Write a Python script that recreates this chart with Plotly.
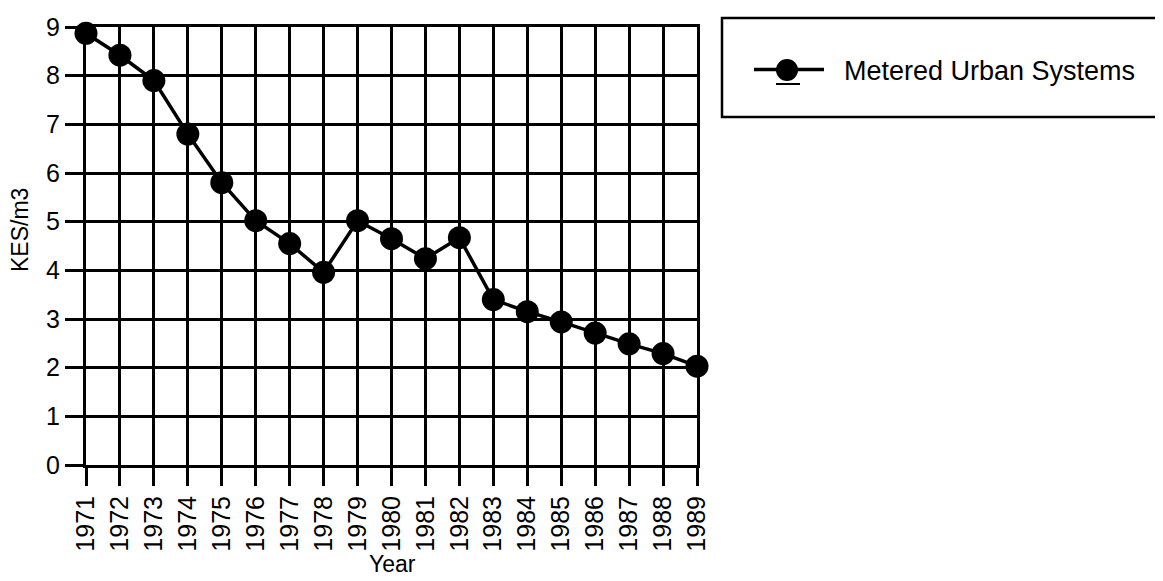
import plotly.graph_objects as go

years = [1971, 1972, 1973, 1974, 1975, 1976, 1977, 1978, 1979, 1980,
         1981, 1982, 1983, 1984, 1985, 1986, 1987, 1988, 1989]
kes_per_m3 = [8.87, 8.42, 7.90, 6.80, 5.80, 5.02, 4.55, 3.96, 5.02, 4.65,
              4.24, 4.67, 3.40, 3.15, 2.94, 2.71, 2.49, 2.29, 2.03]
series_name = "Metered Urban Systems"
x_title = "Year"
y_title = "KES/m3"

# page body has an 8px margin; work in screen pixels and convert
OFF = 8
SW, SH = 1163, 581
W, H = SW - OFF, SH - OFF
# plot area in screen pixels
PX0, PX1, PY0, PY1 = 86, 697, 27, 465
L, R, T, B = PX0 - OFF, W - (PX1 - OFF), PY0 - OFF, H - (PY1 - OFF)
PW, PH = W - L - R, H - T - B


def px_x(p):
    return (p - OFF - L) / PW


def px_y(p):
    return (H - B - (p - OFF)) / PH


FONT = "Liberation Sans, Arial, Helvetica, sans-serif"

fig = go.Figure()
fig.add_trace(go.Scatter(
    x=years, y=kes_per_m3, name="\u00a0\u00a0" + series_name, mode="lines+markers",
    line=dict(color="black", width=3.5),
    marker=dict(color="black", size=23, line=dict(width=0)),
    cliponaxis=False,
))

axis_common = dict(
    showgrid=True, gridcolor="black", gridwidth=3,
    showline=True, linecolor="black", linewidth=3, mirror=True,
    ticks="outside", ticklen=18, tickwidth=3, tickcolor="black",
    zeroline=False, automargin=False,
    tickfont=dict(family=FONT, size=25, color="black"),
)

fig.update_xaxes(range=[1971, 1989], dtick=1, tick0=1971, tickangle=-90, **axis_common)
fig.update_yaxes(range=[0, 9], dtick=1, **axis_common)

# axis titles
fig.add_annotation(text=x_title, xref="paper", yref="paper", x=px_x(392), y=px_y(564),
                   xanchor="center", yanchor="middle", showarrow=False,
                   font=dict(family=FONT, size=23, color="black"))
fig.add_annotation(text=y_title, xref="paper", yref="paper", x=px_x(20), y=px_y(230),
                   xanchor="center", yanchor="middle", showarrow=False, textangle=-90,
                   font=dict(family=FONT, size=23, color="black"))

# legend frame
fig.add_shape(type="rect", xref="paper", yref="paper",
              x0=px_x(722), x1=px_x(1161), y0=px_y(117), y1=px_y(18),
              line=dict(color="black", width=2.5), fillcolor="white", layer="below")
# larger legend marker (plotly caps legend symbol size)
fig.add_shape(type="circle", xref="paper", yref="paper",
              x0=px_x(776), x1=px_x(798), y0=px_y(81), y1=px_y(59),
              line=dict(width=0), fillcolor="black")
# small underline below legend marker (as in original)
fig.add_shape(type="line", xref="paper", yref="paper",
              x0=px_x(776), x1=px_x(800), y0=px_y(84), y1=px_y(84),
              line=dict(color="black", width=2))

fig.update_layout(
    width=W, height=H,
    margin=dict(l=L, r=R, t=T, b=B, autoexpand=False),
    paper_bgcolor="white", plot_bgcolor="white",
    font=dict(family=FONT, color="black"),
    showlegend=True,
    legend=dict(x=px_x(749), y=px_y(70), xanchor="left", yanchor="middle",
                bgcolor="rgba(0,0,0,0)", borderwidth=0,
                font=dict(family=FONT, size=27, color="black"),
                itemwidth=70),
)

fig.write_html("out.html")
